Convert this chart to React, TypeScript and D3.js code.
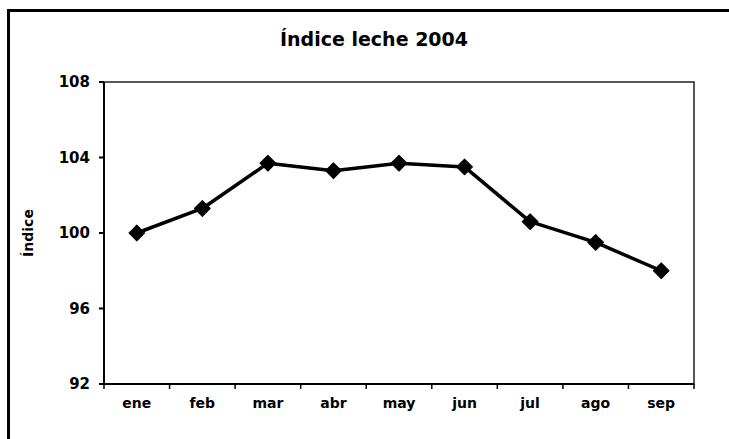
import * as d3 from "d3";

const months = ["ene", "feb", "mar", "abr", "may", "jun", "jul", "ago", "sep"];
const indice = [100.0, 101.3, 103.7, 103.3, 103.7, 103.5, 100.6, 99.5, 98.0];
const yTicks = [92, 96, 100, 104, 108];

const W = 729;
const H = 439;
const plot = { left: 104, right: 694, top: 82, bottom: 384 };
const font = "'DejaVu Sans', Verdana, sans-serif";

export default function App() {
  const x = d3.scaleBand().domain(months).range([plot.left, plot.right]);
  const y = d3.scaleLinear().domain([92, 108]).range([plot.bottom, plot.top]);

  const line = d3
    .line<number>()
    .x((_, i) => x(months[i])! + x.bandwidth() / 2)
    .y((d) => y(d));

  // square turned 45deg, like the Excel diamond marker
  const marker = d3.symbol().type(d3.symbolSquare).size(125)();

  // tick marks between categories
  const xTickPos = months.map((m) => x(m)!).concat(plot.right);

  return (
    <svg
      width={W}
      height={H}
      style={{ position: "fixed", left: 0, top: 0, background: "#fff" }}
    >
      <rect x={0} y={0} width={W} height={H} fill="#fff" />
      {/* outer frame, runs off right and bottom */}
      <path d={`M8.5,${H + 5} V10.5 H${W + 5}`} fill="none" stroke="#000" strokeWidth={3} />

      <text
        x={374}
        y={46}
        textAnchor="middle"
        fontFamily={font}
        fontWeight="bold"
        fontSize={19}
      >
        Índice leche 2004
      </text>

      {/* plot box */}
      <rect
        x={plot.left}
        y={plot.top}
        width={plot.right - plot.left}
        height={plot.bottom - plot.top}
        fill="none"
        stroke="#222"
        strokeWidth={1.5}
      />
      <line x1={plot.left} x2={plot.left} y1={plot.top} y2={plot.bottom} stroke="#000" strokeWidth={2} />
      <line x1={plot.left} x2={plot.right} y1={plot.bottom} y2={plot.bottom} stroke="#000" strokeWidth={2} />

      {yTicks.map((t) => (
        <g key={t}>
          <line x1={plot.left - 5} x2={plot.left} y1={y(t)} y2={y(t)} stroke="#000" strokeWidth={2} />
          <text
            x={plot.left - 14}
            y={y(t)}
            dy="0.36em"
            textAnchor="end"
            fontFamily={font}
            fontWeight="bold"
            fontSize={15}
          >
            {t}
          </text>
        </g>
      ))}

      {xTickPos.map((p, i) => (
        <line key={i} x1={p} x2={p} y1={plot.bottom} y2={plot.bottom + 5} stroke="#000" strokeWidth={1.5} />
      ))}

      {months.map((m) => (
        <text
          key={m}
          x={x(m)! + x.bandwidth() / 2}
          y={408}
          textAnchor="middle"
          fontFamily={font}
          fontWeight="bold"
          fontSize={14}
        >
          {m}
        </text>
      ))}

      <text
        transform={`translate(33, ${(plot.top + plot.bottom) / 2}) rotate(-90)`}
        textAnchor="middle"
        fontFamily={font}
        fontWeight="bold"
        fontSize={14}
      >
        Índice
      </text>

      <path d={line(indice) ?? ""} fill="none" stroke="#000" strokeWidth={3.5} strokeLinejoin="round" />
      {indice.map((v, i) => (
        <path
          key={i}
          d={marker ?? ""}
          transform={`translate(${x(months[i])! + x.bandwidth() / 2}, ${y(v)}) rotate(45)`}
          fill="#000"
          stroke="#000"
          strokeWidth={1}
          strokeLinejoin="round"
        />
      ))}
    </svg>
  );
}
